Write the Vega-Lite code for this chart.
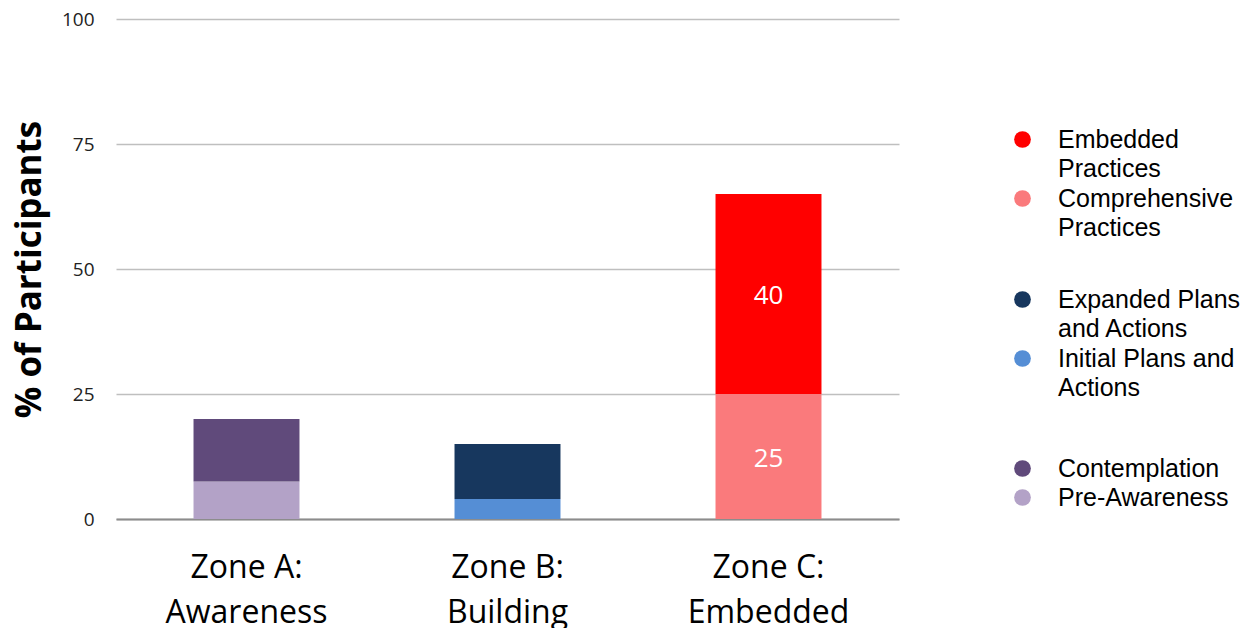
{
  "$schema": "https://vega.github.io/schema/vega-lite/v6.json",
  "width": 783,
  "height": 500,
  "padding": {"left": 12, "top": 10, "right": 0, "bottom": 0},
  "background": "white",
  "config": {
    "view": {"stroke": null},
    "legend": {
      "title": null,
      "orient": "none",
      "symbolType": "circle",
      "symbolSize": 280,
      "symbolStrokeWidth": 0,
      "symbolOpacity": 1,
      "labelFont": "Liberation Sans",
      "labelFontSize": 25,
      "labelColor": "black",
      "labelOffset": 23,
      "labelLimit": 400,
      "rowPadding": 4,
      "padding": 0
    }
  },
  "data": {
    "values": [
      {"zone": "Zone A: Awareness", "stage": "Pre-Awareness", "value": 7.5, "ord": 1},
      {"zone": "Zone A: Awareness", "stage": "Contemplation", "value": 12.5, "ord": 2},
      {"zone": "Zone B: Building", "stage": "Initial Plans and Actions", "value": 4, "ord": 1},
      {"zone": "Zone B: Building", "stage": "Expanded Plans and Actions", "value": 11, "ord": 2},
      {"zone": "Zone C: Embedded", "stage": "Comprehensive Practices", "value": 25, "ord": 1},
      {"zone": "Zone C: Embedded", "stage": "Embedded Practices", "value": 40, "ord": 2}
    ]
  },
  "encoding": {
    "x": {
      "field": "zone",
      "type": "nominal",
      "scale": {"domain": ["Zone A: Awareness", "Zone B: Building", "Zone C: Embedded"], "paddingInner": 0.594, "paddingOuter": 0.297},
      "axis": {
        "title": null,
        "domain": true,
        "domainColor": "#8C8C8C",
        "domainWidth": 2,
        "ticks": false,
        "grid": false,
        "labelAngle": 0,
        "labelFont": "Open Sans",
        "labelFontSize": 32,
        "labelColor": "black",
        "labelPadding": 33,
        "labelLineHeight": 45,
        "labelExpr": "[slice(datum.label,0,7), slice(datum.label,8)]"
      }
    },
    "y": {
      "field": "value",
      "type": "quantitative",
      "stack": "zero",
      "scale": {"domain": [0, 100]},
      "axis": {
        "title": "% of Participants",
        "values": [0, 25, 50, 75, 100],
        "domain": false,
        "ticks": false,
        "grid": true,
        "gridColor": "#BFBFBF",
        "gridWidth": 1.5,
        "labelFont": "Open Sans",
        "labelFontSize": 19,
        "labelColor": "#222222",
        "labelPadding": 22,
        "titleFont": "Open Sans",
        "titleFontSize": 35,
        "titleFontWeight": "bold",
        "titleColor": "black",
        "titlePadding": 14
      }
    },
    "order": {"field": "ord", "type": "quantitative"}
  },
  "layer": [
    {
      "transform": [{"filter": "datum.zone == 'Zone C: Embedded'"}],
      "mark": {"type": "bar"},
      "encoding": {
        "color": {
          "field": "stage",
          "type": "nominal",
          "scale": {"domain": ["Embedded Practices", "Comprehensive Practices"], "range": ["#FF0000", "#FA7A7C"]},
          "legend": {
            "legendX": 894, "legendY": 108,
            "labelExpr": "datum.label == 'Embedded Practices' ? ['Embedded','Practices'] : ['Comprehensive','Practices']",
            "encode": {"labels": {"update": {"lineHeight": {"value": 29}}}}
          }
        }
      }
    },
    {
      "transform": [{"filter": "datum.zone == 'Zone B: Building'"}],
      "mark": {"type": "bar"},
      "encoding": {
        "color": {
          "field": "stage",
          "type": "nominal",
          "scale": {"domain": ["Expanded Plans and Actions", "Initial Plans and Actions"], "range": ["#17375E", "#558ED5"]},
          "legend": {
            "legendX": 894, "legendY": 268,
            "labelExpr": "datum.label == 'Expanded Plans and Actions' ? ['Expanded Plans','and Actions'] : ['Initial Plans and','Actions']",
            "encode": {"labels": {"update": {"lineHeight": {"value": 29}}}}
          }
        }
      }
    },
    {
      "transform": [{"filter": "datum.zone == 'Zone A: Awareness'"}],
      "mark": {"type": "bar"},
      "encoding": {
        "color": {
          "field": "stage",
          "type": "nominal",
          "scale": {"domain": ["Contemplation", "Pre-Awareness"], "range": ["#604A7B", "#B3A2C7"]},
          "legend": {
            "legendX": 894, "legendY": 437, "rowPadding": 3,
            "encode": {"labels": {"update": {"lineHeight": {"value": 29}}}}
          }
        }
      }
    },
    {
      "transform": [{"filter": "datum.zone == 'Zone C: Embedded'"}],
      "mark": {"type": "text", "color": "white", "font": "Open Sans", "fontSize": 26, "dy": 2},
      "encoding": {
        "y": {"field": "value", "type": "quantitative", "stack": "zero", "bandPosition": 0.5},
        "text": {"field": "value", "type": "quantitative"}
      }
    }
  ],
  "resolve": {"scale": {"color": "independent"}}
}
